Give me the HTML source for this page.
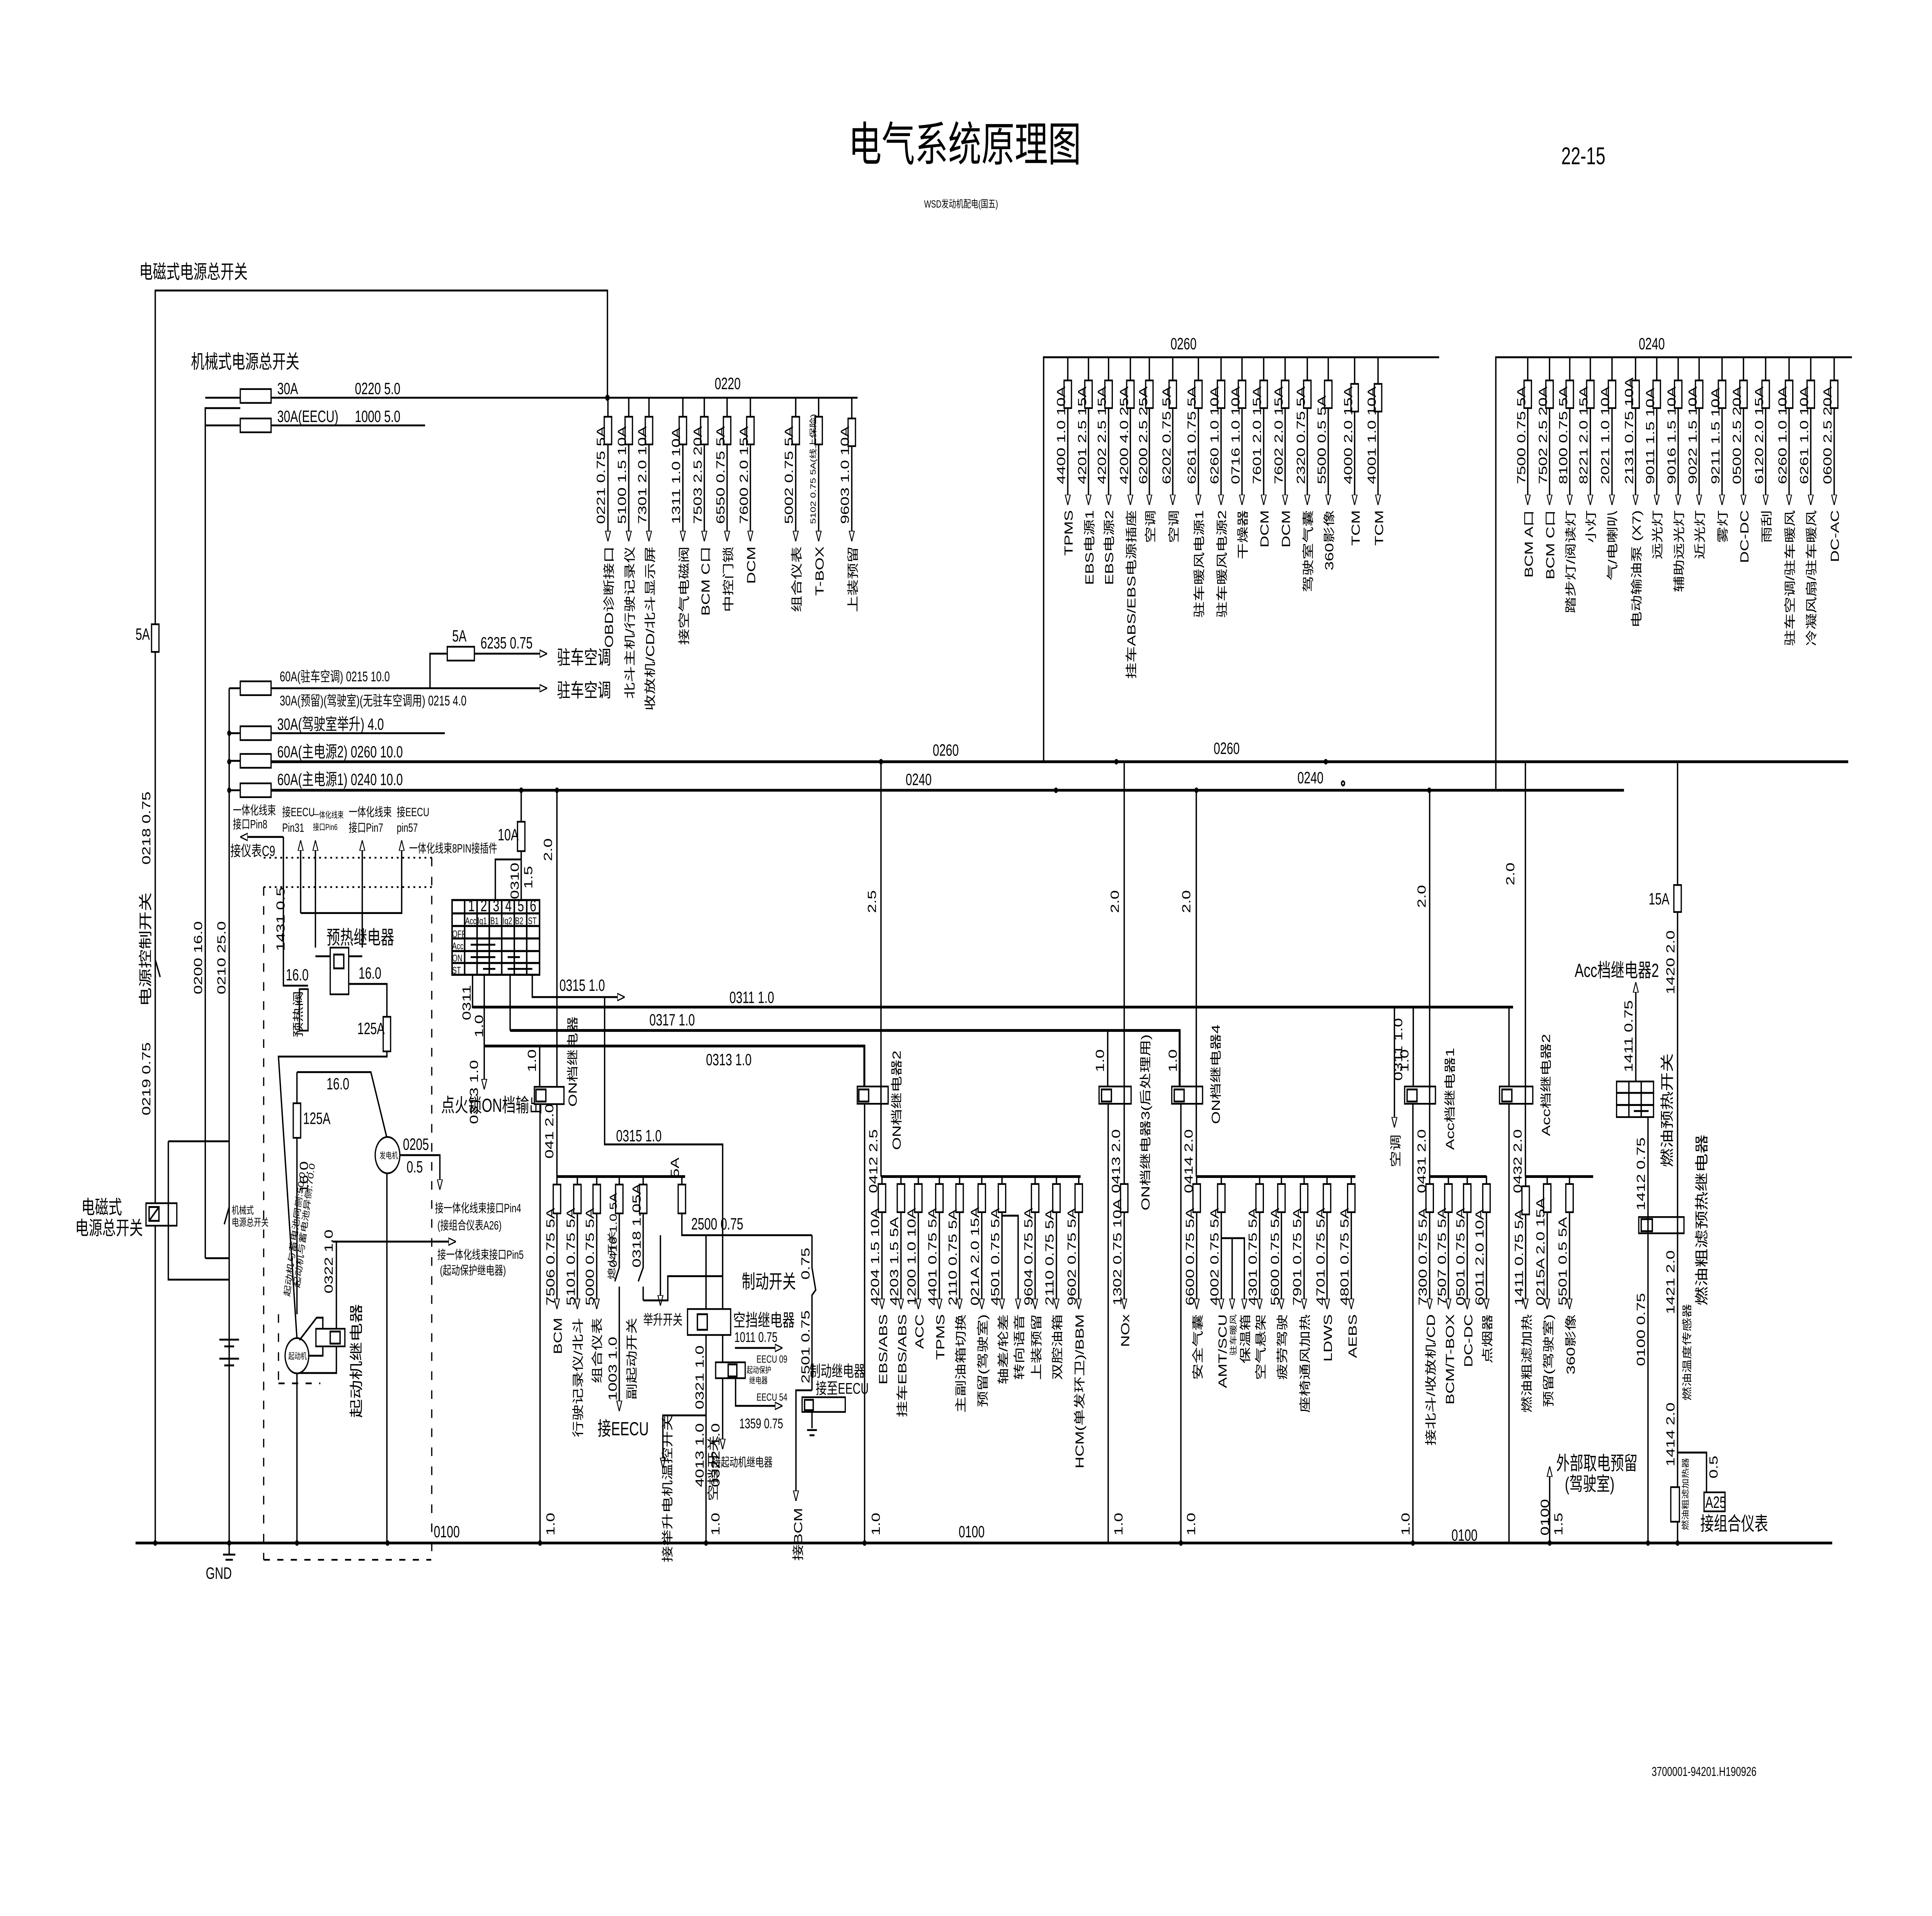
<!DOCTYPE html>
<html><head><meta charset="utf-8"><style>
html,body{margin:0;padding:0;background:#fff;width:100%;height:100%;overflow:hidden}
svg{display:block;width:100vw;height:100vh}
text{font-family:"Liberation Sans","Noto Sans CJK SC",sans-serif;font-size:9.5px;fill:#000}
.l{stroke:#000;stroke-width:1.1;fill:none}
.t{stroke:#000;stroke-width:1.6;fill:none}
.f{stroke:#000;stroke-width:1;fill:#fff}
.d{stroke:#000;stroke-width:1;fill:none;stroke-dasharray:5 6}
.o{stroke:#000;stroke-width:1;fill:none;stroke-dasharray:1.5 3}
.s{font-size:6px}
.b{font-size:11px}
</style></head><body>
<svg viewBox="0 0 1568 1108" preserveAspectRatio="none">
<defs>
<marker id="a" viewBox="0 0 10 10" refX="10" refY="5" markerWidth="6" markerHeight="6" orient="auto" markerUnits="userSpaceOnUse"><path d="M0,1.5 L10,5 L0,8.5 z" fill="#fff" stroke="#000" stroke-width="1.2"/></marker>
</defs>
<rect width="1568" height="1108" fill="#fff"/>
<text x="783" y="93" text-anchor="middle" style="font-size:27px">电气系统原理图</text>
<text x="1285" y="95" text-anchor="middle" style="font-size:14px">22-15</text>
<text x="780" y="120" text-anchor="middle" class="s">WSD发动机配电(国五)</text>
<text x="1383" y="1027" text-anchor="middle" style="font-size:7.5px">3700001-94201.H190926</text>

<text x="113" y="161" class="b">电磁式电源总开关</text>
<polyline class="l" points="126,892 126,168 493,168 493,230"/>
<rect class="f" x="123" y="361" width="6" height="16"/><text x="110" y="370">5A</text>
<text x="155" y="213" class="b">机械式电源总开关</text>
<polyline class="l" points="166.6,727.6 166.6,236 195,236"/>
<line class="l" x1="166.6" y1="230" x2="195" y2="230"/>
<line class="l" x1="166.6" y1="246" x2="195" y2="246"/>
<rect class="f" x="195" y="225" width="25" height="8"/><rect class="f" x="195" y="242" width="25" height="8"/>
<line class="l" x1="220" y1="230" x2="696" y2="230"/>
<line class="l" x1="220" y1="246" x2="345" y2="246"/>
<text x="225" y="228">30A</text><text x="288" y="228">0220  5.0</text>
<text x="225" y="244">30A(EECU)</text><text x="288" y="244">1000  5.0</text>
<text x="580" y="225">0220</text>
<circle cx="493" cy="230" r="1.8"/>

<g class="l">
<line x1="493.4" y1="230" x2="493.4" y2="313" marker-end="url(#a)"/>
<line x1="510.3" y1="230" x2="510.3" y2="313" marker-end="url(#a)"/>
<line x1="526.7" y1="230" x2="526.7" y2="313" marker-end="url(#a)"/>
<line x1="554.2" y1="230" x2="554.2" y2="313" marker-end="url(#a)"/>
<line x1="571.6" y1="230" x2="571.6" y2="313" marker-end="url(#a)"/>
<line x1="590.1" y1="230" x2="590.1" y2="313" marker-end="url(#a)"/>
<line x1="609" y1="230" x2="609" y2="313" marker-end="url(#a)"/>
<line x1="645.8" y1="230" x2="645.8" y2="313" marker-end="url(#a)"/>
<line x1="664.4" y1="230" x2="664.4" y2="313" marker-end="url(#a)"/>
<line x1="691.3" y1="230" x2="691.3" y2="313" marker-end="url(#a)"/>
</g>
<g class="f">
<rect x="490.4" y="241" width="6" height="16"/><rect x="507.3" y="241" width="6" height="16"/><rect x="523.7" y="241" width="6" height="16"/><rect x="551.2" y="241" width="6" height="16"/><rect x="568.6" y="241" width="6" height="16"/><rect x="587.1" y="241" width="6" height="16"/><rect x="606" y="241" width="6" height="16"/><rect x="642.8" y="241" width="6" height="16"/><rect x="661.4" y="241" width="6" height="16"/><rect x="688.3" y="242" width="6" height="16"/>
</g>
<g>
<text transform="translate(491,303) rotate(-90)">0221 0.75 5A</text>
<text transform="translate(508,303) rotate(-90)">5100 1.5 10A</text>
<text transform="translate(524.5,303) rotate(-90)">7301 2.0 10A</text>
<text transform="translate(552,303) rotate(-90)">1311 1.0 10A</text>
<text transform="translate(569.5,303) rotate(-90)">7503 2.5 20A</text>
<text transform="translate(588,303) rotate(-90)">6550 0.75 5A</text>
<text transform="translate(607,303) rotate(-90)">7600 2.0 15A</text>
<text transform="translate(643.5,303) rotate(-90)">5002 0.75 5A</text>
<text transform="translate(662,303) rotate(-90)" class="s">5102 0.75 5A(线上保险)</text>
<text transform="translate(689,303) rotate(-90)">9603 1.0 10A</text>
</g>
<g class="b">
<text transform="translate(497.5,316) rotate(-90)" text-anchor="end">OBD诊断接口</text>
<text transform="translate(514.5,316) rotate(-90)" text-anchor="end">北斗主机/行驶记录仪</text>
<text transform="translate(531,316) rotate(-90)" text-anchor="end">收放机/CD/北斗显示屏</text>
<text transform="translate(558.5,316) rotate(-90)" text-anchor="end">接空气电磁阀</text>
<text transform="translate(576,316) rotate(-90)" text-anchor="end">BCM C口</text>
<text transform="translate(594.5,316) rotate(-90)" text-anchor="end">中控门锁</text>
<text transform="translate(613,316) rotate(-90)" text-anchor="end">DCM</text>
<text transform="translate(650,316) rotate(-90)" text-anchor="end">组合仪表</text>
<text transform="translate(668.5,316) rotate(-90)" text-anchor="end">T-BOX</text>
<text transform="translate(695.5,316) rotate(-90)" text-anchor="end">上装预留</text>
</g>

<polyline class="l" points="847,440 847,206.6 1168,206.6"/>
<text x="950" y="202">0260</text>
<g class="l">
<line x1="866.6" y1="206.6" x2="866.6" y2="292" marker-end="url(#a)"/>
<line x1="883.4" y1="206.6" x2="883.4" y2="292" marker-end="url(#a)"/>
<line x1="899.7" y1="206.6" x2="899.7" y2="292" marker-end="url(#a)"/>
<line x1="917.4" y1="206.6" x2="917.4" y2="292" marker-end="url(#a)"/>
<line x1="932.8" y1="206.6" x2="932.8" y2="292" marker-end="url(#a)"/>
<line x1="951.8" y1="206.6" x2="951.8" y2="292" marker-end="url(#a)"/>
<line x1="972.6" y1="206.6" x2="972.6" y2="292" marker-end="url(#a)"/>
<line x1="991" y1="206.6" x2="991" y2="292" marker-end="url(#a)"/>
<line x1="1008" y1="206.6" x2="1008" y2="292" marker-end="url(#a)"/>
<line x1="1025.6" y1="206.6" x2="1025.6" y2="292" marker-end="url(#a)"/>
<line x1="1043" y1="206.6" x2="1043" y2="292" marker-end="url(#a)"/>
<line x1="1061" y1="206.6" x2="1061" y2="292" marker-end="url(#a)"/>
<line x1="1078" y1="206.6" x2="1078" y2="292" marker-end="url(#a)"/>
<line x1="1099.4" y1="206.6" x2="1099.4" y2="292" marker-end="url(#a)"/>
<line x1="1118.4" y1="206.6" x2="1118.4" y2="292" marker-end="url(#a)"/>
</g>
<g class="f">
<rect x="863.6" y="220" width="6" height="16"/><rect x="880.4" y="220" width="6" height="16"/><rect x="896.7" y="220" width="6" height="16"/><rect x="914.4" y="220" width="6" height="16"/><rect x="929.8" y="220" width="6" height="16"/><rect x="948.8" y="220" width="6" height="16"/><rect x="969.6" y="220" width="6" height="16"/><rect x="988" y="220" width="6" height="16"/><rect x="1005" y="220" width="6" height="16"/><rect x="1022.6" y="220" width="6" height="16"/><rect x="1040" y="220" width="6" height="16"/><rect x="1058" y="220" width="6" height="16"/><rect x="1075" y="220" width="6" height="16"/><rect x="1096.4" y="222" width="6" height="16"/><rect x="1115.4" y="222" width="6" height="16"/>
</g>
<g>
<text transform="translate(864.5,280) rotate(-90)">4400 1.0 10A</text>
<text transform="translate(881.5,280) rotate(-90)">4201 2.5 15A</text>
<text transform="translate(897.5,280) rotate(-90)">4202 2.5 15A</text>
<text transform="translate(915.5,280) rotate(-90)">4200 4.0 25A</text>
<text transform="translate(931,280) rotate(-90)">6200 2.5 25A</text>
<text transform="translate(950,280) rotate(-90)">6202 0.75 5A</text>
<text transform="translate(970.5,280) rotate(-90)">6261 0.75 5A</text>
<text transform="translate(989,280) rotate(-90)">6260 1.0 10A</text>
<text transform="translate(1006,280) rotate(-90)">0716 1.0 10A</text>
<text transform="translate(1023.5,280) rotate(-90)">7601 2.0 15A</text>
<text transform="translate(1041,280) rotate(-90)">7602 2.0 15A</text>
<text transform="translate(1059,280) rotate(-90)">2320 0.75 5A</text>
<text transform="translate(1076,280) rotate(-90)">5500 0.5 5A</text>
<text transform="translate(1097.5,280) rotate(-90)">4000 2.0 15A</text>
<text transform="translate(1116.5,280) rotate(-90)">4001 1.0 10A</text>
</g>
<g>
<text transform="translate(870.5,295) rotate(-90)" text-anchor="end">TPMS</text>
<text transform="translate(887.5,295) rotate(-90)" text-anchor="end">EBS电源1</text>
<text transform="translate(903.5,295) rotate(-90)" text-anchor="end">EBS电源2</text>
<text transform="translate(921.5,295) rotate(-90)" text-anchor="end">挂车ABS/EBS电源插座</text>
<text transform="translate(937,295) rotate(-90)" text-anchor="end">空调</text>
<text transform="translate(956,295) rotate(-90)" text-anchor="end">空调</text>
<text transform="translate(976.5,295) rotate(-90)" text-anchor="end">驻车暖风电源1</text>
<text transform="translate(995,295) rotate(-90)" text-anchor="end">驻车暖风电源2</text>
<text transform="translate(1012,295) rotate(-90)" text-anchor="end">干燥器</text>
<text transform="translate(1029.5,295) rotate(-90)" text-anchor="end">DCM</text>
<text transform="translate(1047,295) rotate(-90)" text-anchor="end">DCM</text>
<text transform="translate(1065,295) rotate(-90)" text-anchor="end">驾驶室气囊</text>
<text transform="translate(1082,295) rotate(-90)" text-anchor="end">360影像</text>
<text transform="translate(1103.5,295) rotate(-90)" text-anchor="end">TCM</text>
<text transform="translate(1122.5,295) rotate(-90)" text-anchor="end">TCM</text>
</g>

<polyline class="l" points="1214,457 1214,206.6 1503,206.6"/>
<text x="1330" y="202">0240</text>
<g class="l">
<line x1="1239.9" y1="206.6" x2="1239.9" y2="292" marker-end="url(#a)"/>
<line x1="1257.6" y1="206.6" x2="1257.6" y2="292" marker-end="url(#a)"/>
<line x1="1274" y1="206.6" x2="1274" y2="292" marker-end="url(#a)"/>
<line x1="1290.7" y1="206.6" x2="1290.7" y2="292" marker-end="url(#a)"/>
<line x1="1308.3" y1="206.6" x2="1308.3" y2="292" marker-end="url(#a)"/>
<line x1="1327.4" y1="206.6" x2="1327.4" y2="292" marker-end="url(#a)"/>
<line x1="1344.6" y1="206.6" x2="1344.6" y2="292" marker-end="url(#a)"/>
<line x1="1362" y1="206.6" x2="1362" y2="292" marker-end="url(#a)"/>
<line x1="1379" y1="206.6" x2="1379" y2="292" marker-end="url(#a)"/>
<line x1="1397.6" y1="206.6" x2="1397.6" y2="292" marker-end="url(#a)"/>
<line x1="1415" y1="206.6" x2="1415" y2="292" marker-end="url(#a)"/>
<line x1="1433" y1="206.6" x2="1433" y2="292" marker-end="url(#a)"/>
<line x1="1452" y1="206.6" x2="1452" y2="292" marker-end="url(#a)"/>
<line x1="1469.6" y1="206.6" x2="1469.6" y2="292" marker-end="url(#a)"/>
<line x1="1488.6" y1="206.6" x2="1488.6" y2="292" marker-end="url(#a)"/>
</g>
<g class="f">
<rect x="1236.9" y="220" width="6" height="16"/><rect x="1254.6" y="220" width="6" height="16"/><rect x="1271" y="220" width="6" height="16"/><rect x="1287.7" y="220" width="6" height="16"/><rect x="1305.3" y="220" width="6" height="16"/><rect x="1324.4" y="220" width="6" height="16"/><rect x="1341.6" y="220" width="6" height="16"/><rect x="1359" y="220" width="6" height="16"/><rect x="1376" y="220" width="6" height="16"/><rect x="1394.6" y="220" width="6" height="16"/><rect x="1412" y="220" width="6" height="16"/><rect x="1430" y="220" width="6" height="16"/><rect x="1449" y="220" width="6" height="16"/><rect x="1466.6" y="220" width="6" height="16"/><rect x="1485.6" y="220" width="6" height="16"/>
</g>
<g>
<text transform="translate(1238,280) rotate(-90)">7500 0.75 5A</text>
<text transform="translate(1255.5,280) rotate(-90)">7502 2.5 20A</text>
<text transform="translate(1272,280) rotate(-90)">8100 0.75 5A</text>
<text transform="translate(1288.5,280) rotate(-90)">8221 2.0 15A</text>
<text transform="translate(1306,280) rotate(-90)">2021 1.0 10A</text>
<text transform="translate(1325.5,280) rotate(-90)">2131 0.75 10A</text>
<text transform="translate(1342.5,280) rotate(-90)">9011 1.5 10A</text>
<text transform="translate(1360,280) rotate(-90)">9016 1.5 10A</text>
<text transform="translate(1377,280) rotate(-90)">9022 1.5 10A</text>
<text transform="translate(1395.5,280) rotate(-90)">9211 1.5 10A</text>
<text transform="translate(1413,280) rotate(-90)">0500 2.5 20A</text>
<text transform="translate(1431,280) rotate(-90)">6120 2.0 15A</text>
<text transform="translate(1450,280) rotate(-90)">6260 1.0 10A</text>
<text transform="translate(1467.5,280) rotate(-90)">6261 1.0 10A</text>
<text transform="translate(1486.5,280) rotate(-90)">0600 2.5 20A</text>
</g>
<g>
<text transform="translate(1244,295) rotate(-90)" text-anchor="end">BCM A口</text>
<text transform="translate(1261.5,295) rotate(-90)" text-anchor="end">BCM C口</text>
<text transform="translate(1278,295) rotate(-90)" text-anchor="end">踏步灯/阅读灯</text>
<text transform="translate(1294.5,295) rotate(-90)" text-anchor="end">小灯</text>
<text transform="translate(1312,295) rotate(-90)" text-anchor="end">气/电喇叭</text>
<text transform="translate(1331.5,295) rotate(-90)" text-anchor="end">电动输油泵 (X7)</text>
<text transform="translate(1348.5,295) rotate(-90)" text-anchor="end">远光灯</text>
<text transform="translate(1366,295) rotate(-90)" text-anchor="end">辅助远光灯</text>
<text transform="translate(1383,295) rotate(-90)" text-anchor="end">近光灯</text>
<text transform="translate(1401.5,295) rotate(-90)" text-anchor="end">雾灯</text>
<text transform="translate(1419,295) rotate(-90)" text-anchor="end">DC-DC</text>
<text transform="translate(1437,295) rotate(-90)" text-anchor="end">雨刮</text>
<text transform="translate(1456,295) rotate(-90)" text-anchor="end">驻车空调/驻车暖风</text>
<text transform="translate(1473.5,295) rotate(-90)" text-anchor="end">冷凝风扇/驻车暖风</text>
<text transform="translate(1492.5,295) rotate(-90)" text-anchor="end">DC-AC</text>
</g>

<line class="l" x1="186" y1="398" x2="186" y2="892"/>
<g class="f">
<rect x="195" y="394" width="25" height="8"/><rect x="195" y="420" width="25" height="8"/><rect x="195" y="436" width="25" height="8"/><rect x="195" y="453" width="25" height="8"/>
</g>
<line class="l" x1="186" y1="398" x2="195" y2="398"/><line class="l" x1="186" y1="424" x2="195" y2="424"/><line class="l" x1="186" y1="440" x2="195" y2="440"/><line class="l" x1="186" y1="457" x2="195" y2="457"/>
<polyline class="l" points="220,398 444,398" marker-end="url(#a)"/>
<polyline class="l" points="349,398 349,378 444,378" marker-end="url(#a)"/>
<rect class="f" x="363" y="374" width="22" height="8"/>
<text x="367" y="371">5A</text><text x="390" y="375">6235 0.75</text>
<text x="452" y="384" class="b">驻车空调</text><text x="452" y="403" class="b">驻车空调</text>
<text x="227" y="394" style="font-size:8px">60A(驻车空调) 0215 10.0</text>
<text x="227" y="408" style="font-size:8px">30A(预留)(驾驶室)(无驻车空调用)  0215 4.0</text>
<line class="l" x1="220" y1="424" x2="361" y2="424"/>
<text x="225" y="422">30A(驾驶室举升) 4.0</text>
<text x="225" y="438">60A(主电源2) 0260   10.0</text>
<text x="225" y="454">60A(主电源1)  0240   10.0</text>
<line class="t" x1="220" y1="440.5" x2="1500" y2="440.5"/>
<line class="t" x1="220" y1="457" x2="1318" y2="457"/>
<text x="757" y="437">0260</text><text x="985" y="436">0260</text>
<text x="735" y="454">0240</text><text x="1053" y="453">0240</text><circle cx="1090" cy="453" r="1.2" class="l"/>
<g>
<circle cx="186" cy="424" r="1.6"/><circle cx="186" cy="440.5" r="1.6"/><circle cx="186" cy="457" r="1.6"/>
<circle cx="715" cy="440.5" r="1.6"/><circle cx="906" cy="440.5" r="1.6"/><circle cx="1076" cy="440.5" r="1.6"/>
<circle cx="423" cy="457" r="1.6"/><circle cx="452" cy="457" r="1.6"/><circle cx="857" cy="457" r="1.6"/><circle cx="971" cy="457" r="1.6"/><circle cx="1160" cy="457" r="1.6"/>
</g>

<line class="l" x1="126" y1="555" x2="130" y2="565"/>
<text transform="translate(122,500) rotate(-90)">0218 0.75</text>
<text transform="translate(122,582) rotate(-90)" class="b">电源控制开关</text>
<text transform="translate(122,645) rotate(-90)">0219 0.75</text>
<text transform="translate(164,575) rotate(-90)">0200 16.0</text>
<text transform="translate(183,575) rotate(-90)">0210 25.0</text>
<rect class="f" x="118.5" y="695.8" width="25" height="13"/>
<rect class="l" x="121" y="698" width="8" height="8"/>
<line class="l" x1="121" y1="706" x2="129" y2="698"/>
<polyline class="l" points="136.6,660 186,660"/>
<polyline class="l" points="136.6,660 136.6,740 186,740"/>
<polyline class="l" points="166.6,727.6 186,727.6"/>
<line class="l" x1="186" y1="698" x2="182" y2="708"/>
<text x="188" y="702" class="s">机械式</text><text x="188" y="709" class="s">电源总开关</text>
<text x="66" y="702" class="b">电磁式</text><text x="61" y="714" class="b">电源总开关</text>
<g class="l">
<line x1="178" y1="774.7" x2="194" y2="774.7"/><line x1="182" y1="778.6" x2="190" y2="778.6"/><line x1="178" y1="785.7" x2="194" y2="785.7"/><line x1="182" y1="789.6" x2="190" y2="789.6"/>
</g>
<line class="l" x1="186" y1="892" x2="186" y2="899"/>
<line class="l" x1="181" y1="899" x2="191" y2="899"/><line class="l" x1="183" y1="902" x2="189" y2="902"/>
<text x="167" y="913">GND</text>

<line class="o" x1="214" y1="496" x2="352" y2="496"/>
<line class="o" x1="214" y1="513" x2="352" y2="513"/>
<line class="d" x1="214" y1="513" x2="214" y2="902"/>
<line class="d" x1="350.4" y1="496" x2="350.4" y2="902"/>
<line class="d" x1="214" y1="902" x2="350" y2="902"/>
<text x="189" y="471" style="font-size:7px">一体化线束</text><text x="189" y="479" style="font-size:7px">接口Pin8</text>
<line class="l" x1="230" y1="484" x2="195" y2="484" marker-end="url(#a)"/>
<text x="187" y="495" style="font-size:8.5px">接仪表C9</text>
<text x="229" y="472" style="font-size:7px">接EECU</text><text x="229" y="481" style="font-size:7px">Pin31</text>
<text x="254" y="473" style="font-size:5px">一体化线束</text><text x="254" y="480" style="font-size:5px">接口Pin6</text>
<text x="283" y="472" style="font-size:7px">一体化线束</text><text x="283" y="481" style="font-size:7px">接口Pin7</text>
<text x="322" y="472" style="font-size:7px">接EECU</text><text x="322" y="481" style="font-size:7px">pin57</text>
<text x="332" y="493" style="font-size:7px">一体化线束8PIN接插件</text>
<g class="l">
<polyline points="230,484 230,570 250,570"/>
<polyline points="244,528 244,486" marker-end="url(#a)"/>
<polyline points="256,548 256,528 256,486" marker-end="url(#a)"/>
<polyline points="294,548 294,528 294,486" marker-end="url(#a)"/>
<polyline points="244,528 326,528 326,486" marker-end="url(#a)"/>
<polyline points="256,553 268,553"/><polyline points="283,553 294,553"/>
<polyline points="276,575 276,569 314,569 314,611 226,611 241,774"/>
<polyline points="241,794 241,892"/>
<polyline points="241,620 241,760"/>
<polyline points="241,620 301,620 314,658"/>
<polyline points="314,678 314,892"/>
<polyline points="324,668 357,668 357,688" marker-end="url(#a)"/>
</g>
<line class="l" x1="270" y1="718" x2="370" y2="718" marker-end="url(#a)"/>
<rect class="f" x="268" y="548" width="15" height="27"/><rect class="l" x="271" y="552" width="8" height="8"/>
<text x="265" y="546" class="b">预热继电器</text>
<text transform="translate(231,550) rotate(-90)">1431  0.5</text>
<text x="232" y="567">16.0</text><text x="291" y="566">16.0</text>
<rect class="f" x="243" y="572" width="7" height="24"/>
<text transform="translate(245,600) rotate(-90)" style="font-size:9px">预热阀</text>
<rect class="f" x="311" y="588" width="6" height="20"/><text x="290" y="598">125A</text>
<rect class="f" x="238" y="638" width="6" height="20"/><text x="246" y="650">125A</text>
<text x="265" y="630">16.0</text>
<text transform="translate(250,690) rotate(-90)">16.0</text>
<ellipse class="f" cx="314.5" cy="668" rx="10" ry="10.5"/><text x="308" y="670" style="font-size:5px">发电机</text>
<text x="327" y="665">0205</text><text x="330" y="678">0.5</text>
<text x="353" y="701" style="font-size:7px">接一体化线束接口Pin4</text><text x="355" y="711" style="font-size:7px">(接组合仪表A26)</text>
<text x="355" y="728" style="font-size:7px">接一体化线束接口Pin5</text><text x="357" y="737" style="font-size:7px">(起动保护继电器)</text>
<text transform="translate(235,750) rotate(-80)" style="font-size:6.5px">起动机与蓄电池同侧:50.0</text>
<text transform="translate(243,745) rotate(-80)" style="font-size:6.5px">起动机与蓄电池异侧:70.0</text>
<ellipse class="f" cx="241" cy="784" rx="9.6" ry="10.2"/><text x="234" y="786" style="font-size:5px">起动机</text>
<polyline class="l" points="243,775 257,762 262,762 262,773"/>
<polyline class="l" points="250,784 262,784 262,778"/>
<polyline class="l" points="243,794 273,794 273,718"/>
<rect class="f" x="256.4" y="768.4" width="23.5" height="10.2"/><rect class="l" x="268" y="770" width="8" height="7"/>
<text transform="translate(270,748) rotate(-90)">0322 1.0</text>
<text transform="translate(293,820) rotate(-90)" class="b">起动机继电器</text>
<line class="d" x1="226" y1="760" x2="226" y2="800"/><line class="d" x1="226" y1="800" x2="260" y2="800"/>

<line class="l" x1="423" y1="457" x2="423" y2="520.5"/>
<rect class="f" x="420" y="475.2" width="6" height="17"/><text x="404" y="486">10A</text>
<polyline class="l" points="423,497 402,497 402,520.5"/>
<text transform="translate(421,520) rotate(-90)">0310</text><text transform="translate(432,514) rotate(-90)">1.5</text>
<line class="l" x1="452" y1="457" x2="452" y2="628"/>
<text transform="translate(448,498) rotate(-90)">2.0</text>
<g class="l" style="stroke-width:1.2">
<rect x="366.9" y="520.5" width="71" height="43.2"/>
<line x1="377.1" y1="520.5" x2="377.1" y2="563.7"/><line x1="387.2" y1="520.5" x2="387.2" y2="563.7"/><line x1="397.1" y1="520.5" x2="397.1" y2="563.7"/><line x1="407.2" y1="520.5" x2="407.2" y2="563.7"/><line x1="417.4" y1="520.5" x2="417.4" y2="563.7"/><line x1="427.5" y1="520.5" x2="427.5" y2="563.7"/>
<line x1="366.9" y1="528.2" x2="437.9" y2="528.2"/><line x1="366.9" y1="535.5" x2="437.9" y2="535.5"/><line x1="366.9" y1="542.7" x2="437.9" y2="542.7"/><line x1="366.9" y1="550" x2="437.9" y2="550"/><line x1="366.9" y1="556.9" x2="437.9" y2="556.9"/>
</g>
<g style="font-size:6.5px">
<text x="380" y="527">1</text><text x="390" y="527">2</text><text x="400" y="527">3</text><text x="410" y="527">4</text><text x="420" y="527">5</text><text x="430" y="527">6</text>
<text x="377.5" y="534.5" style="font-size:5.5px">Acc</text><text x="387.5" y="534.5" style="font-size:5.5px">Ig1</text><text x="398" y="534.5" style="font-size:5.5px">B1</text><text x="408" y="534.5" style="font-size:5.5px">Ig2</text><text x="418" y="534.5" style="font-size:5.5px">B2</text><text x="428.5" y="534.5" style="font-size:5.5px">ST</text>
<text x="367" y="542" style="font-size:5.5px">OFF</text><text x="367" y="549" style="font-size:5.5px">Acc</text><text x="367" y="556" style="font-size:5.5px">ON</text><text x="367" y="563" style="font-size:5.5px">ST</text>
</g>
<g class="l"><line x1="382" y1="546.3" x2="402" y2="546.3"/><line x1="382" y1="553.5" x2="402" y2="553.5"/><line x1="412" y1="553.5" x2="422" y2="553.5"/><line x1="392" y1="560.3" x2="402" y2="560.3"/><line x1="412" y1="560.3" x2="432" y2="560.3"/></g>
<polyline class="l" points="383.5,563.7 383.5,583"/>
<polyline class="l" points="393,563.7 393,604.5 393,630" marker-end="url(#a)"/>
<polyline class="l" points="414,563.7 414,596"/>
<polyline class="l" points="432,563.7 432,576.6 507,576.6" marker-end="url(#a)"/>
<text x="454" y="573">0315 1.0</text>
<text transform="translate(382,590) rotate(-90)">0311</text><text transform="translate(392,600) rotate(-90)">1.0</text>
<text transform="translate(388,650) rotate(-90)">0313 1.0</text>
<text x="358" y="643" class="b">点火锁ON档输出</text>

<line class="t" x1="383.5" y1="582.4" x2="1228" y2="582.4"/>
<text x="592" y="580">0311 1.0</text>
<polyline class="t" points="414,595.9 957.4,595.9 957.4,628"/>
<text x="527" y="593">0317 1.0</text>
<polyline class="t" points="393,604.9 701.5,604.9 701.5,628"/>
<text x="573" y="616">0313 1.0</text>
<polyline class="l" points="899,595.9 899,628"/>
<polyline class="l" points="1131.7,582.4 1131.7,652" marker-end="url(#a)"/>
<text transform="translate(1136,675) rotate(-90)">空调</text>
<polyline class="l" points="1147,582.4 1147,628"/>
<polyline class="l" points="1224.7,582.4 1224.7,628"/>
<polyline class="l" points="438,604.9 438,628"/>
<text transform="translate(1138,625) rotate(-90)">0311 1.0</text>

<g class="f">
<rect x="433.7" y="628.5" width="24" height="10"/><rect x="695.8" y="628.3" width="25" height="10"/><rect x="892" y="628.3" width="26" height="10"/><rect x="951" y="628.3" width="25" height="10"/><rect x="1140" y="628.3" width="25" height="10"/><rect x="1217" y="628.3" width="27" height="10"/><rect x="1330" y="703.8" width="36.7" height="9.4"/>
</g>
<g class="l">
<rect x="435" y="630" width="8" height="7"/><rect x="697" y="630" width="8" height="7"/><rect x="894" y="630" width="8" height="7"/><rect x="953" y="630" width="8" height="7"/><rect x="1142" y="630" width="8" height="7"/><rect x="1219" y="630" width="8" height="7"/><rect x="1332" y="705" width="9" height="7"/>
</g>
<g class="b">
<text transform="translate(468,640) rotate(-90)">ON档继电器</text>
<text transform="translate(731,665) rotate(-90)">ON档继电器2</text>
<text transform="translate(933,700) rotate(-90)">ON档继电器3(后处理用)</text>
<text transform="translate(990,650) rotate(-90)">ON档继电器4</text>
<text transform="translate(1180,665) rotate(-90)">Acc档继电器1</text>
<text transform="translate(1258,657) rotate(-90)">Acc档继电器2</text>
</g>
<g class="l">
<line x1="438.3" y1="638" x2="438.3" y2="892"/>
<line x1="452" y1="638" x2="452" y2="680.4"/>
<line x1="701.7" y1="638" x2="701.7" y2="892"/>
<line x1="715" y1="440.5" x2="715" y2="680.4"/>
<line x1="899.4" y1="638" x2="899.4" y2="892"/>
<line x1="912.4" y1="440.5" x2="912.4" y2="757" marker-end="url(#a)"/>
<line x1="958.4" y1="638" x2="958.4" y2="892"/>
<line x1="970.9" y1="457" x2="970.9" y2="680.4"/>
<line x1="1146.7" y1="638" x2="1146.7" y2="892"/>
<line x1="1160.3" y1="457" x2="1160.3" y2="680.4"/>
<line x1="1224.7" y1="638" x2="1224.7" y2="892"/>
<line x1="1238" y1="440.5" x2="1238" y2="680.4"/>
</g>
<text transform="translate(711,528) rotate(-90)">2.5</text>
<text transform="translate(908,528) rotate(-90)">2.0</text>
<text transform="translate(966,528) rotate(-90)">2.0</text>
<text transform="translate(1157,525) rotate(-90)">2.0</text>
<text transform="translate(1229,512) rotate(-90)">2.0</text>
<text transform="translate(449,670) rotate(-90)">041 2.0</text>
<text transform="translate(712,690) rotate(-90)">0412 2.5</text>
<text transform="translate(909,690) rotate(-90)">0413 2.0</text>
<text transform="translate(968,690) rotate(-90)">0414 2.0</text>
<text transform="translate(1157,690) rotate(-90)">0431 2.0</text>
<text transform="translate(1235,690) rotate(-90)">0432 2.0</text>
<text transform="translate(435,620) rotate(-90)">1.0</text><text transform="translate(896,620) rotate(-90)">1.0</text><text transform="translate(955,620) rotate(-90)">1.0</text><text transform="translate(1143,620) rotate(-90)">1.0</text>
<g>
<text transform="translate(450,888) rotate(-90)">1.0</text><text transform="translate(584,888) rotate(-90)">1.0</text><text transform="translate(714,888) rotate(-90)">1.0</text><text transform="translate(911,888) rotate(-90)">1.0</text><text transform="translate(970,888) rotate(-90)">1.0</text><text transform="translate(1144,888) rotate(-90)">1.0</text><text transform="translate(1268,888) rotate(-90)">1.5</text><text transform="translate(1257,888) rotate(-90)">0100</text>
</g>

<g class="t">
<line x1="452" y1="680.4" x2="556" y2="680.4"/>
<line x1="715" y1="680.4" x2="877" y2="680.4"/>
<line x1="970.9" y1="680.4" x2="1100" y2="680.4"/>
<line x1="1160.3" y1="680.4" x2="1206.4" y2="680.4"/>
<line x1="1238" y1="680.4" x2="1293" y2="680.4"/>
</g>
<g class="l">
<line x1="452" y1="680" x2="452" y2="757" marker-end="url(#a)"/>
<line x1="468.6" y1="680" x2="468.6" y2="757" marker-end="url(#a)"/>
<line x1="484.3" y1="680" x2="484.3" y2="757" marker-end="url(#a)"/>
<polyline points="502.6,680 502.6,733 499,741"/><line x1="502.6" y1="744" x2="502.6" y2="816" marker-end="url(#a)"/>
<polyline points="522,680 522,733 518,741"/><line x1="522" y1="744" x2="522" y2="752"/>
<polyline points="553.4,680 553.4,714.3 659,714.3"/>
<polyline points="536,714.3 536,755" marker-end="url(#a)"/>
<polyline points="522,752 542,752 542,738 586.5,738"/>
<polyline points="490.7,576.6 490.7,661.8 586.5,661.8 586.5,838" marker-end="url(#a)"/>
<polyline points="573,714.3 573,820 573,892"/>
<polyline points="573,818.5 538,818.5 538,849" marker-end="url(#a)"/>
<polyline points="659,714.3 659,733 662,746 659,749 659,804"/>
<polyline points="659,804 646,804 646,868" marker-end="url(#a)"/>
<polyline points="659,816 659,826"/>
<line x1="655" y1="827" x2="663" y2="827"/><line x1="657" y1="830" x2="661" y2="830"/>
<polyline points="597,780 597,779.5 635,779.5" marker-end="url(#a)"/>
<polyline points="597,797 597,813 635,813" marker-end="url(#a)"/>
</g>
<g class="f">
<rect x="449" y="685" width="6" height="16.7"/><rect x="465.6" y="685" width="6" height="16.7"/><rect x="481.3" y="685" width="6" height="16.7"/><rect x="499.6" y="685" width="6" height="16.7"/><rect x="519" y="685" width="6" height="16.7"/><rect x="550.4" y="685" width="6" height="16.7"/>
<rect x="558" y="757" width="35" height="15"/><rect x="580.8" y="787.8" width="24" height="9.2"/><rect x="651" y="808" width="35" height="8.5"/>
</g>
<rect class="l" x="566" y="760" width="8" height="9"/><rect class="l" x="591" y="789" width="7" height="7"/><rect class="l" x="653" y="809.5" width="7" height="6"/>
<g>
<text transform="translate(450,755) rotate(-90)">7506 0.75 5A</text>
<text transform="translate(466.5,755) rotate(-90)">5101 0.75 5A</text>
<text transform="translate(482,755) rotate(-90)">5000 0.75 5A</text>
<text transform="translate(500.5,733) rotate(-90)" style="font-size:8px">0416 1.0 5A</text>
<text transform="translate(520,733) rotate(-90)">0318 1.05A</text>
<text transform="translate(551,681) rotate(-90)">5A</text>
<text transform="translate(500.5,810) rotate(-90)">1003 1.0</text>
<text transform="translate(571,815) rotate(-90)">0321 1.0</text>
<text transform="translate(571,860) rotate(-90)">4013 1.0</text>
<text transform="translate(584,860) rotate(-90)">0322 1.0</text>
<text transform="translate(657,800) rotate(-90)">2501 0.75</text>
<text transform="translate(657,740) rotate(-90)">0.75</text>
</g>
<text x="561" y="711">2500 0.75</text>
<text x="500" y="660">0315 1.0</text>
<g class="b">
<text transform="translate(456,762) rotate(-90)" text-anchor="end">BCM</text>
<text transform="translate(472.5,762) rotate(-90)" text-anchor="end">行驶记录仪/北斗</text>
<text transform="translate(488,762) rotate(-90)" text-anchor="end">组合仪表</text>
<text transform="translate(516,762) rotate(-90)" text-anchor="end">副起动开关</text>
<text transform="translate(545,818) rotate(-90)" text-anchor="end">接举升电机温控开关</text>
<text transform="translate(582,830) rotate(-90)" text-anchor="end">空挡开关</text>
<text transform="translate(651,872) rotate(-90)" text-anchor="end">接BCM</text>
</g>
<text transform="translate(499,740) rotate(-90)" style="font-size:7px">熄火开关</text>
<text x="485" y="830" class="b">接EECU</text>
<text x="522" y="766" style="font-size:8px">举升开关</text>
<text x="595" y="767" style="font-size:10px">空挡继电器</text>
<text x="602" y="745" class="b">制动开关</text>
<text x="596" y="776" style="font-size:8px">1011 0.75</text>
<text x="614" y="788" style="font-size:6px">EECU 09</text>
<text x="606" y="794" style="font-size:5px">起动保护</text><text x="608" y="800" style="font-size:5px">继电器</text>
<text x="614" y="810" style="font-size:6px">EECU 54</text>
<text x="600" y="826" style="font-size:8px">1359 0.75</text>
<text x="578" y="848" style="font-size:7px">接起动机继电器</text>
<text x="657" y="796" style="font-size:9px">制动继电器</text><text x="662" y="806" style="font-size:9px">接至EECU</text>

<g class="l">
<line x1="715.8" y1="680" x2="715.8" y2="757" marker-end="url(#a)"/>
<line x1="731.2" y1="680" x2="731.2" y2="757" marker-end="url(#a)"/>
<line x1="745.3" y1="680" x2="745.3" y2="757" marker-end="url(#a)"/>
<line x1="762.4" y1="680" x2="762.4" y2="757" marker-end="url(#a)"/>
<line x1="778.8" y1="680" x2="778.8" y2="757" marker-end="url(#a)"/>
<line x1="796.8" y1="680" x2="796.8" y2="757" marker-end="url(#a)"/>
<line x1="813.2" y1="680" x2="813.2" y2="757" marker-end="url(#a)"/>
<polyline points="813.2,703 826.3,703 826.3,757" marker-end="url(#a)"/>
<line x1="840.1" y1="680" x2="840.1" y2="757" marker-end="url(#a)"/>
<line x1="857.4" y1="680" x2="857.4" y2="757" marker-end="url(#a)"/>
<line x1="875.5" y1="680" x2="875.5" y2="757" marker-end="url(#a)"/>
</g>
<g class="f">
<rect x="712.8" y="684.7" width="6" height="16.3"/><rect x="728.2" y="684.7" width="6" height="16.3"/><rect x="742.3" y="684.7" width="6" height="16.3"/><rect x="759.4" y="684.7" width="6" height="16.3"/><rect x="775.8" y="684.7" width="6" height="16.3"/><rect x="793.8" y="684.7" width="6" height="16.3"/><rect x="810.2" y="684.7" width="6" height="16.3"/><rect x="837.1" y="684.7" width="6" height="16.3"/><rect x="854.4" y="684.7" width="6" height="16.3"/><rect x="872.5" y="684.7" width="6" height="16.3"/><rect x="909.4" y="684.7" width="6" height="16.3"/>
</g>
<g>
<text transform="translate(713.5,755) rotate(-90)">4204 1.5 10A</text>
<text transform="translate(729,755) rotate(-90)">4203 1.5 5A</text>
<text transform="translate(743,755) rotate(-90)">1200 1.0 10A</text>
<text transform="translate(760,755) rotate(-90)">4401 0.75 5A</text>
<text transform="translate(776.5,755) rotate(-90)">2110 0.75 5A</text>
<text transform="translate(794.5,755) rotate(-90)">021A 2.0 15A</text>
<text transform="translate(811,755) rotate(-90)">4501 0.75 5A</text>
<text transform="translate(838,755) rotate(-90)">9604 0.75 5A</text>
<text transform="translate(855,755) rotate(-90)">2110 0.75 5A</text>
<text transform="translate(873,755) rotate(-90)">9602 0.75 5A</text>
<text transform="translate(910,755) rotate(-90)">1302 0.75 10A</text>
</g>
<g>
<text transform="translate(720,760) rotate(-90)" text-anchor="end">EBS/ABS</text>
<text transform="translate(735.5,760) rotate(-90)" text-anchor="end">挂车EBS/ABS</text>
<text transform="translate(749.5,760) rotate(-90)" text-anchor="end">ACC</text>
<text transform="translate(766.5,760) rotate(-90)" text-anchor="end">TPMS</text>
<text transform="translate(783,760) rotate(-90)" text-anchor="end">主副油箱切换</text>
<text transform="translate(801,760) rotate(-90)" text-anchor="end">预留(驾驶室)</text>
<text transform="translate(817.5,760) rotate(-90)" text-anchor="end">轴差/轮差</text>
<text transform="translate(830.5,760) rotate(-90)" text-anchor="end">转向语音</text>
<text transform="translate(844.5,760) rotate(-90)" text-anchor="end">上装预留</text>
<text transform="translate(861.5,760) rotate(-90)" text-anchor="end">双腔油箱</text>
<text transform="translate(879.5,760) rotate(-90)" text-anchor="end">HCM(单发环卫)/BBM</text>
<text transform="translate(916.5,760) rotate(-90)" text-anchor="end">NOx</text>
</g>

<g class="l">
<line x1="971.2" y1="680" x2="971.2" y2="757" marker-end="url(#a)"/>
<line x1="991.2" y1="680" x2="991.2" y2="757" marker-end="url(#a)"/>
<polyline points="991.2,716 1009.9,716 1009.9,757" marker-end="url(#a)"/>
<line x1="1000" y1="716" x2="1000" y2="757" marker-end="url(#a)"/>
<line x1="1022.3" y1="680" x2="1022.3" y2="757" marker-end="url(#a)"/>
<line x1="1040" y1="680" x2="1040" y2="757" marker-end="url(#a)"/>
<line x1="1058.4" y1="680" x2="1058.4" y2="757" marker-end="url(#a)"/>
<line x1="1077" y1="680" x2="1077" y2="757" marker-end="url(#a)"/>
<line x1="1096.7" y1="680" x2="1096.7" y2="757" marker-end="url(#a)"/>
</g>
<g class="f">
<rect x="968.2" y="684.7" width="6" height="16.3"/><rect x="988.2" y="684.7" width="6" height="16.3"/><rect x="1019.3" y="684.7" width="6" height="16.3"/><rect x="1037" y="684.7" width="6" height="16.3"/><rect x="1055.4" y="684.7" width="6" height="16.3"/><rect x="1074" y="684.7" width="6" height="16.3"/><rect x="1093.7" y="684.7" width="6" height="16.3"/>
</g>
<g>
<text transform="translate(969,755) rotate(-90)">6600 0.75 5A</text>
<text transform="translate(989,755) rotate(-90)">4002 0.75 5A</text>
<text transform="translate(1020,755) rotate(-90)">4301 0.75 5A</text>
<text transform="translate(1038,755) rotate(-90)">5600 0.75 5A</text>
<text transform="translate(1056,755) rotate(-90)">7901 0.75 5A</text>
<text transform="translate(1075,755) rotate(-90)">4701 0.75 5A</text>
<text transform="translate(1094.5,755) rotate(-90)">4801 0.75 5A</text>
</g>
<g>
<text transform="translate(975.5,760) rotate(-90)" text-anchor="end">安全气囊</text>
<text transform="translate(995.5,760) rotate(-90)" text-anchor="end">AMT/SCU</text>
<text transform="translate(1003,760) rotate(-90)" text-anchor="end" class="s">驻车暖风</text>
<text transform="translate(1014,760) rotate(-90)" text-anchor="end">保温箱</text>
<text transform="translate(1026.5,760) rotate(-90)" text-anchor="end">空气悬架</text>
<text transform="translate(1044,760) rotate(-90)" text-anchor="end">疲劳驾驶</text>
<text transform="translate(1062.5,760) rotate(-90)" text-anchor="end">座椅通风加热</text>
<text transform="translate(1081,760) rotate(-90)" text-anchor="end">LDWS</text>
<text transform="translate(1101,760) rotate(-90)" text-anchor="end">AEBS</text>
</g>

<g class="l">
<line x1="1160.3" y1="680" x2="1160.3" y2="757" marker-end="url(#a)"/>
<line x1="1175.5" y1="680" x2="1175.5" y2="757" marker-end="url(#a)"/>
<line x1="1190.8" y1="680" x2="1190.8" y2="757" marker-end="url(#a)"/>
<line x1="1206.4" y1="680" x2="1206.4" y2="757" marker-end="url(#a)"/>
</g>
<g class="f">
<rect x="1157.3" y="684.7" width="6" height="16.3"/><rect x="1172.5" y="684.7" width="6" height="16.3"/><rect x="1187.8" y="684.7" width="6" height="16.3"/><rect x="1203.4" y="684.7" width="6" height="16.3"/>
</g>
<g>
<text transform="translate(1158,755) rotate(-90)">7300 0.75 5A</text>
<text transform="translate(1173.5,755) rotate(-90)">7507 0.75 5A</text>
<text transform="translate(1188.5,755) rotate(-90)">0501 0.75 5A</text>
<text transform="translate(1204,755) rotate(-90)">6011 2.0 10A</text>
</g>
<g>
<text transform="translate(1164.5,760) rotate(-90)" text-anchor="end">接北斗/收放机/CD</text>
<text transform="translate(1180,760) rotate(-90)" text-anchor="end">BCM/T-BOX</text>
<text transform="translate(1195,760) rotate(-90)" text-anchor="end">DC-DC</text>
<text transform="translate(1210.5,760) rotate(-90)" text-anchor="end">点烟器</text>
</g>

<g class="l">
<line x1="1238.2" y1="680" x2="1238.2" y2="757" marker-end="url(#a)"/>
<line x1="1255.7" y1="680" x2="1255.7" y2="757" marker-end="url(#a)"/>
<line x1="1273.8" y1="680" x2="1273.8" y2="757" marker-end="url(#a)"/>
<line x1="1257.7" y1="892" x2="1257.7" y2="848" marker-end="url(#a)"/>
</g>
<g class="f">
<rect x="1235.2" y="686" width="6" height="16.3"/><rect x="1252.7" y="684.7" width="6" height="16.3"/><rect x="1270.8" y="684.7" width="6" height="16.3"/>
</g>
<g>
<text transform="translate(1236,755) rotate(-90)">1411 0.75 5A</text>
<text transform="translate(1253.5,755) rotate(-90)">0215A 2.0 15A</text>
<text transform="translate(1271.5,755) rotate(-90)">5501 0.5 5A</text>
</g>
<g>
<text transform="translate(1242.5,760) rotate(-90)" text-anchor="end">燃油粗滤加热</text>
<text transform="translate(1260,760) rotate(-90)" text-anchor="end">预留(驾驶室)</text>
<text transform="translate(1278,760) rotate(-90)" text-anchor="end">360影像</text>
</g>
<text x="1263" y="850" class="b">外部取电预留</text><text x="1270" y="862" class="b">(驾驶室)</text>

<line class="l" x1="1361.5" y1="440.5" x2="1361.5" y2="892"/>
<rect class="f" x="1358.5" y="511.8" width="6" height="15.6"/><text x="1338" y="523">15A</text>
<text transform="translate(1359,575) rotate(-90)">1420 2.0</text>
<line class="l" x1="1327.6" y1="625.4" x2="1327.6" y2="568" marker-end="url(#a)"/>
<text x="1278" y="565" class="b">Acc档继电器2</text>
<text transform="translate(1325,620) rotate(-90)">1411 0.75</text>
<rect class="f" x="1312" y="625.4" width="30" height="20.6"/>
<g class="l"><line x1="1322" y1="625.4" x2="1322" y2="646"/><line x1="1332" y1="625.4" x2="1332" y2="646"/><line x1="1312" y1="632" x2="1342" y2="632"/><line x1="1312" y1="639" x2="1342" y2="639"/><line x1="1326" y1="642.5" x2="1338" y2="642.5"/></g>
<text transform="translate(1357,675) rotate(-90)" class="b">燃油预热开关</text>
<line class="l" x1="1337.5" y1="646" x2="1337.5" y2="892"/>
<text transform="translate(1335,700) rotate(-90)">1412 0.75</text>
<text transform="translate(1335,790) rotate(-90)">0100 0.75</text>
<text transform="translate(1359,760) rotate(-90)">1421 2.0</text>
<text transform="translate(1385,755) rotate(-90)" class="b">燃油粗滤预热继电器</text>
<text transform="translate(1359,848) rotate(-90)">1414 2.0</text>
<text transform="translate(1372,810) rotate(-90)" style="font-size:8px">燃油温度传感器</text>
<rect class="f" x="1356" y="860" width="7" height="20"/>
<text transform="translate(1370,885) rotate(-90)" style="font-size:6px">燃油粗滤加热器</text>
<polyline class="l" points="1361.5,840 1385,840 1385,866"/>
<text transform="translate(1394,855) rotate(-90)">0.5</text>
<rect class="f" x="1383" y="863" width="17" height="11"/><text x="1384" y="872">A25</text>
<text x="1380" y="885" class="b">接组合仪表</text>

<line class="t" x1="110" y1="892.3" x2="1487" y2="892.3"/>
<text x="352" y="889">0100</text><text x="778" y="889">0100</text><text x="1178" y="891">0100</text>
<g>
<circle cx="126" cy="892.3" r="1.6"/><circle cx="186" cy="892.3" r="1.6"/><circle cx="241" cy="892.3" r="1.6"/><circle cx="314.5" cy="892.3" r="1.6"/><circle cx="438.3" cy="892.3" r="1.6"/><circle cx="573" cy="892.3" r="1.6"/><circle cx="701.7" cy="892.3" r="1.6"/><circle cx="958.4" cy="892.3" r="1.6"/><circle cx="1146.7" cy="892.3" r="1.6"/><circle cx="1257.7" cy="892.3" r="1.6"/><circle cx="1337.5" cy="892.3" r="1.6"/><circle cx="1361.5" cy="892.3" r="1.6"/>
</g>
</svg>
</body></html>
